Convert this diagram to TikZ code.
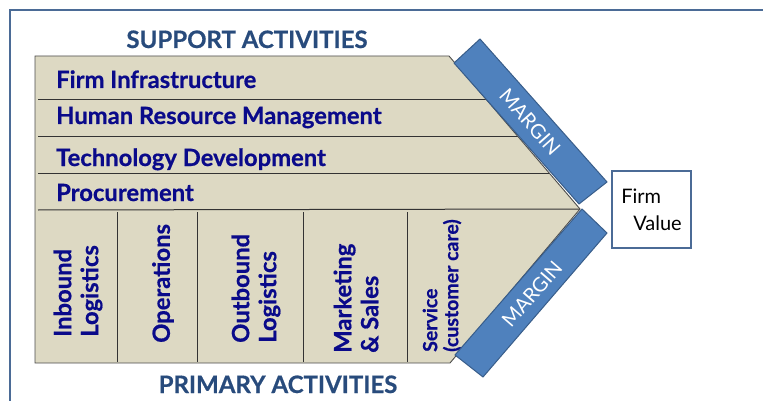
\documentclass[tikz,border=0pt]{standalone}
\usepackage{fontspec}
\setmainfont{Lato}
\newcommand{\hvy}{\bfseries\addfontfeatures{FakeBold=0.6}}
\definecolor{beige}{HTML}{DDD9C3}
\definecolor{navy}{HTML}{0A0A8A}
\definecolor{steel}{HTML}{284B7C}
\definecolor{mblue}{HTML}{4F81BD}
\definecolor{mborder}{HTML}{385D8A}
\definecolor{framec}{HTML}{4B6B96}
\begin{document}
\begin{tikzpicture}[x=1pt,y=-1pt,
  rowline/.style={draw=black!80, line width=1pt},
  rowtxt/.style={anchor=base west, inner sep=0pt, text=navy, font=\fontsize{23.8}{27}\selectfont\hvy},
  primtxt/.style={anchor=west, rotate=90, inner sep=0pt, align=left, text=navy, font=\fontsize{23.8}{27}\selectfont\hvy},
  svctxt/.style={anchor=west, rotate=90, inner sep=0pt, align=left, text=navy, font=\fontsize{19.5}{21}\selectfont\hvy},
  headtxt/.style={anchor=base, inner sep=0pt, text=steel, font=\fontsize{24}{27}\selectfont\hvy},
  marginbar/.style={draw=mborder, fill=mblue, line width=1pt},
  margintxt/.style={text=white, inner sep=0pt, font=\fontsize{20}{22}\selectfont}]
\useasboundingbox (0,0) rectangle (763,401);
\draw[framec, line width=2.5pt] (10,430) -- (10,10) -- (790,10);
% main shape
\coordinate (tl) at (35,56);
\coordinate (tr) at (449,56);
\coordinate (tip) at (580,209);
\coordinate (br) at (450,363);
\coordinate (bl) at (35,363);
\path[fill=beige] (tl) -- (tr) -- (tip) -- (br) -- (bl) -- cycle;
% row separators
\draw[rowline] (38,100) -- (486.7,100);
\draw[rowline] (38,137) -- (518.4,137);
\draw[rowline] (38,173) -- (549.2,173);
\draw[rowline] (38,210) -- (tip);
% column separators
\draw[rowline] (117,212) -- (117,362);
\draw[rowline] (197,212) -- (197,362);
\draw[rowline] (303,212) -- (303,362);
\draw[rowline] (407,212) -- (407,362);
\draw[black!70, line width=0.9pt] (tl) -- (tr) -- (tip) -- (br) -- (bl) -- cycle;
% texts
\node[headtxt] (sup) at (247,48) {SUPPORT ACTIVITIES};
\node[headtxt] (prim) at (278,393) {PRIMARY ACTIVITIES};
\node[rowtxt] (fi) at (56,88) {Firm Infrastructure};
\node[rowtxt] (hrm) at (56,124) {Human Resource Management};
\node[rowtxt] (td) at (56,166) {Technology Development};
\node[rowtxt] (pr) at (56,201) {Procurement};
\node[primtxt] (inb) at (78,337) {Inbound\\Logistics};
\node[primtxt] (ops) at (163,343) {Operations};
\node[primtxt] (outb) at (256,343) {Outbound\\Logistics};
\node[primtxt] (mkt) at (356,353) {Marketing\\\& Sales};
\node[svctxt] (svc) at (442,352) {Service\\(customer care)};
% margins
\draw[marginbar] (480,39) -- (607,182) -- (579,204) -- (454,63) -- cycle;
\draw[marginbar] (582,209) -- (607,233) -- (483,377) -- (455,355) -- cycle;
\node[margintxt, rotate=-48.4] (m1) at (530,122) {MARGIN};
\node[margintxt, rotate=49] (m2) at (532,294) {MARGIN};
% firm value
\node[draw=framec, line width=1.5pt, fill=white, minimum width=79pt, minimum height=77pt, align=left,
      font=\fontsize{20}{27}\selectfont] (fv) at (651.5,209.5) {Firm\\\hspace*{12pt}Value};
\end{tikzpicture}
\end{document}
